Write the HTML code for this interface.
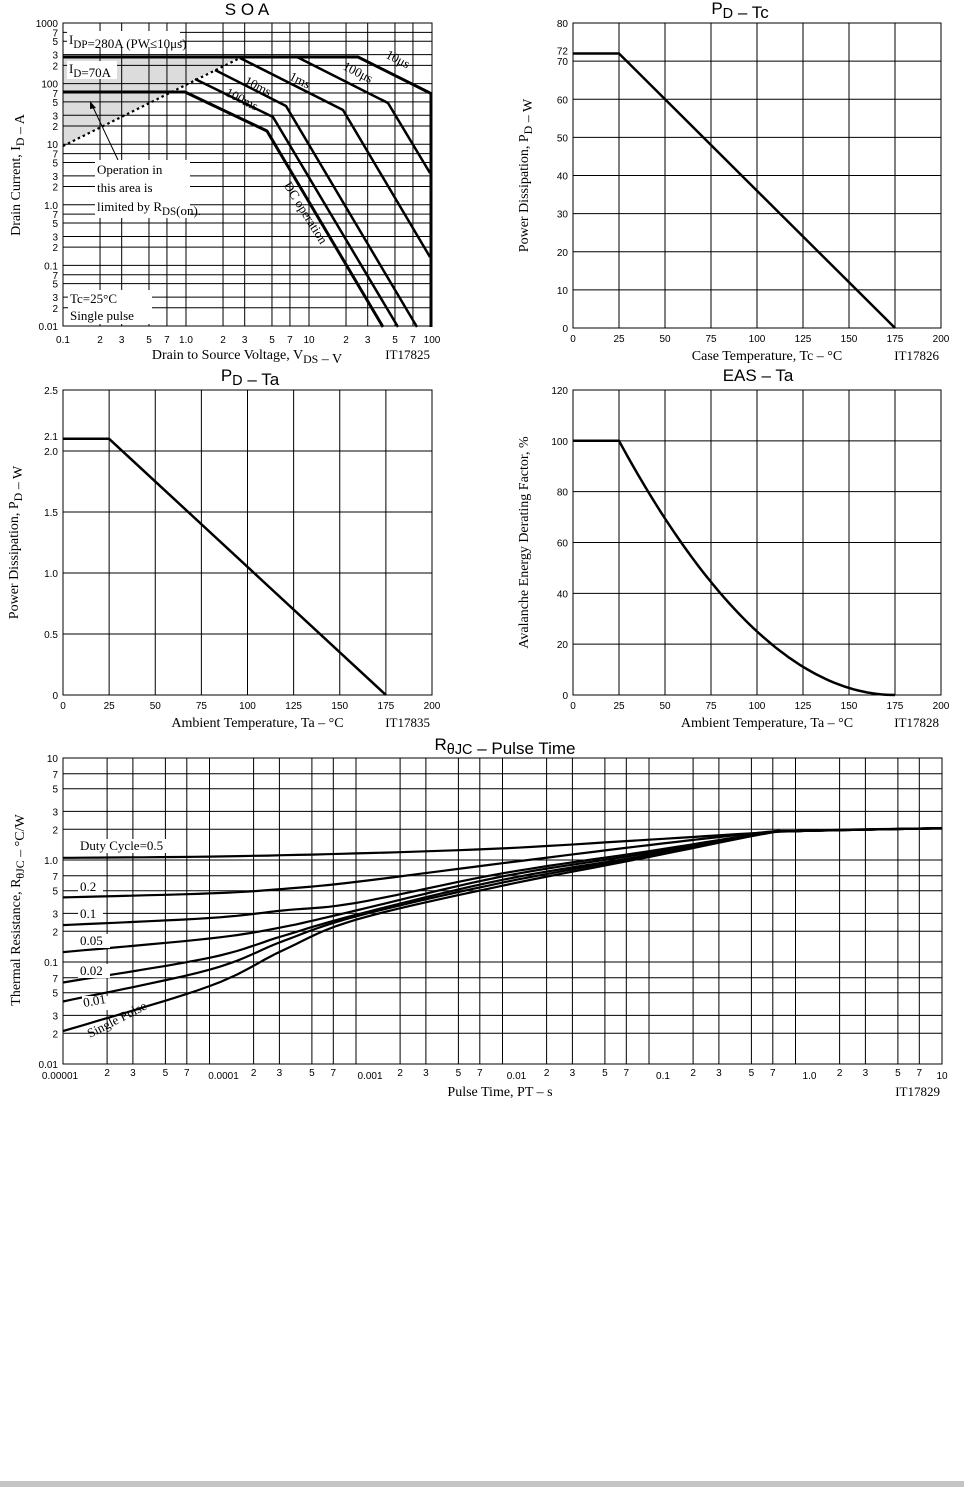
<!DOCTYPE html>
<html><head><meta charset="utf-8"><style>
html,body{margin:0;padding:0;background:#fff;}
svg{display:block;}
.t{font-family:"Liberation Sans",sans-serif;font-size:10px;fill:#000;}
.s{font-family:"Liberation Serif",serif;font-size:13px;fill:#000;}
.a{font-family:"Liberation Serif",serif;font-size:14px;fill:#000;}
.h{font-family:"Liberation Sans",sans-serif;font-size:17px;fill:#000;}
</style></head><body>
<svg id="g" width="964" height="1487" xmlns="http://www.w3.org/2000/svg">
<rect x="0" y="1481" width="964" height="6" fill="#c4c4c4"/>
</svg>
<script>
const NS="http://www.w3.org/2000/svg",G=document.getElementById('g');
function el(n,a,txt){const e=document.createElementNS(NS,n);for(const k in a)e.setAttribute(k,a[k]);if(txt!==undefined)e.textContent=txt;G.appendChild(e);return e;}
function line(x1,y1,x2,y2,w){el('line',{x1,y1,x2,y2,stroke:'#000','stroke-width':w||1});}
function text(x,y,s,cls,anchor,extra){const a={x,y,class:cls||'t','text-anchor':anchor||'middle'};Object.assign(a,extra||{});return el('text',a,s);}
const SUB=s=>s.replace(/_\{([^}]*)\}/g,'<tspan dy="4" font-size="85%">$1</tspan><tspan dy="-4"></tspan>');
function htext(x,y,s,cls,anchor,extra){const e=text(x,y,'',cls,anchor,extra);e.innerHTML=SUB(s);return e;}
function poly(pts,w,extra){const a={points:pts.map(p=>p[0].toFixed(1)+','+p[1].toFixed(1)).join(' '),fill:'none',stroke:'#000','stroke-width':w||2.5,'stroke-linejoin':'round'};Object.assign(a,extra||{});el('polyline',a);}
const L=Math.log10,M=[1,2,3,5,7];

// ===== SOA =====
(function(){
const X=v=>63+123*L(v/0.1),Y=i=>23+60.6*(3-L(i));
el('polygon',{points:`63,57 240,57 63,146`,fill:'#dcdcdc'});
for(let d=-1;d<2;d++)for(const m of M){const v=m*Math.pow(10,d);line(X(v),23,X(v),326);}
for(let d=-2;d<3;d++)for(const m of M){const v=m*Math.pow(10,d);line(63,Y(v),432,Y(v));}
el('rect',{x:63,y:23,width:369,height:303,fill:'none',stroke:'#000','stroke-width':1});
const xl=['0.1','1.0','10'];
for(let d=-1;d<2;d++)for(const m of M){const v=m*Math.pow(10,d);text(X(v),343,m==1?xl[d+1]:m);}
text(X(100),343,'100');
const yl=['0.01','0.1','1.0','10','100'];
for(let d=-2;d<3;d++)for(const m of M){const v=m*Math.pow(10,d);text(58,Y(v)+4,m==1?yl[d+2]:m,'t','end');}
text(58,27,'1000','t','end');
poly([[63,57],[358,57],[430,93]],3);
poly([[297,57],[388,103],[430,173]]);
poly([[240,58],[343,110],[430,257]]);
poly([[215,70],[286,106],[417,327]]);
poly([[195,79],[273,117],[398,327]]);
poly([[63,92],[185,92],[267,131],[383,327]],3);
line(431,92,431,327,3);
poly([[63,146],[240,58]],2.2,{'stroke-dasharray':'2.5,3'});
el('rect',{x:67,y:31,width:113,height:16,fill:'#fff'});
htext(69,44,'I_{DP}=280A (PW≤10μs)','s','start',{'font-size':'12'});
el('rect',{x:67,y:61,width:50,height:18,fill:'#fff'});
htext(69,73,'I_{D}=70A','s','start',{'font-size':'12'});
line(118,160,92,105,1);el('polygon',{points:'90,101 96,108 90,109',fill:'#000'});
el('rect',{x:95,y:160,width:95,height:58,fill:'#fff'});
text(97,174,'Operation in','s','start');text(97,192,'this area is','s','start');htext(97,211,'limited by R_{DS}(on).','s','start');
el('rect',{x:68,y:290,width:84,height:34,fill:'#fff'});
text(70,303,'Tc=25°C','s','start');text(70,320,'Single pulse','s','start');
text(0,0,'10μs','s','middle',{transform:'translate(396,63) rotate(27)'});
text(0,0,'100μs','s','middle',{transform:'translate(356,76) rotate(27)'});
text(0,0,'1ms','s','middle',{transform:'translate(298,84) rotate(27)'});
text(0,0,'10ms','s','middle',{transform:'translate(256,90) rotate(27)'});
text(0,0,'100ms','s','middle',{transform:'translate(240,103) rotate(27)'});
text(0,0,'DC operation','s','middle',{transform:'translate(302,215) rotate(58)'});
htext(0,0,'Drain Current, I_{D}  –  A','a','middle',{transform:'translate(20,175) rotate(-90)'});
htext(247,359,'Drain to Source Voltage, V_{DS}  –  V','a');
text(430,359,'IT17825','s','end',{'font-size':'10'});
text(247,15,'S O A','h');
})();

function lin(x0,x1,y0,y1,ymax,ystep,yextra,title,tx,xt,it,ytitle){
 const X=v=>x0+(x1-x0)*v/200,Y=v=>y1-(y1-y0)*v/ymax;
 for(let v=0;v<=200;v+=25){line(X(v),y0,X(v),y1);text(X(v),y1+14,v);}
 for(let v=0;v<=ymax+1e-9;v+=ystep){line(x0,Y(v),x1,Y(v));text(x0-5,Y(v)+4,ystep<1&&v>0?v.toFixed(1):Math.round(v),'t','end');}
 if(yextra)text(x0-5,Y(yextra[0])+4+yextra[2],yextra[1],'t','end');
 el('rect',{x:x0,y:y0,width:x1-x0,height:y1-y0,fill:'none',stroke:'#000'});
 htext(tx,y0-9,title,'h');
 text((x0+x1)/2+10,y1+32,xt,'a');
 text(x1-2,y1+32,it,'s','end',{'font-size':'10'});
 htext(0,0,ytitle,'a','middle',{transform:`translate(${x0-45},${(y0+y1)/2}) rotate(-90)`});
 return [X,Y];
}
(function(){
let [X,Y]=lin(573,941,23,328,80,10,[72,'72',-3],'P_{D}  –  Tc',740,'Case Temperature, Tc  –  °C','IT17826','Power Dissipation, P_{D}  –  W');
poly([[X(0),Y(72)],[X(25),Y(72)],[X(175),Y(0)]],2.5);
[X,Y]=lin(63,432,390,695,2.5,0.5,[2.1,'2.1',-3],'P_{D}  –  Ta',250,'Ambient Temperature, Ta  –  °C','IT17835','Power Dissipation, P_{D}  –  W');
poly([[X(0),Y(2.1)],[X(25),Y(2.1)],[X(175),Y(0)]],2.5);
[X,Y]=lin(573,941,390,695,120,20,null,'EAS  –  Ta',758,'Ambient Temperature, Ta  –  °C','IT17828','Avalanche Energy Derating Factor, %');
const p=[[X(0),Y(100)],[X(25),Y(100)]];for(let t=25;t<=175;t+=2.5)p.push([X(t),Y(100*Math.pow((175-t)/150,2))]);
poly(p,2.5);
})();

(function(){
const X=t=>63+146.5*(L(t)+5),Y=v=>758+102*(1-L(v));
for(let d=-5;d<1;d++)for(const m of M){const v=m*Math.pow(10,d);line(X(v),758,X(v),1064);}
for(let d=-2;d<1;d++)for(const m of M){const v=m*Math.pow(10,d);line(63,Y(v),942,Y(v));}
el('rect',{x:63,y:758,width:879,height:306,fill:'none',stroke:'#000'});
const dl=['0.00001','0.0001','0.001','0.01','0.1','1.0','10'];
for(let d=-5;d<=1;d++){const x=X(Math.pow(10,d));text(x+(d==-5?-3:d==1?0:14),1079,dl[d+5]);
 if(d<1)for(const m of [2,3,5,7])text(X(m*Math.pow(10,d)),1076,m);}
const yl=['0.01','0.1','1.0','10'];
for(let d=-2;d<=1;d++){text(58,Y(Math.pow(10,d))+4,yl[d+2],'t','end');if(d<1)for(const m of [2,3,5,7])text(58,Y(m*Math.pow(10,d))+4,m,'t','end');}
const C={
 '0.5':[[-5,1.05],[-4,1.08],[-3,1.16],[-2,1.3],[-1,1.58],[0,1.92],[1,2.05]],
 '0.2':[[-5,0.43],[-4,0.47],[-3.5,0.52],[-3,0.61],[-2,0.93],[-1,1.4],[-0.2,1.88],[0,1.92],[1,2.05]],
 '0.1':[[-5,0.23],[-4,0.27],[-3.5,0.32],[-3,0.38],[-2,0.74],[-1,1.22],[-0.2,1.85],[0,1.92],[1,2.05]],
 '0.05':[[-5,0.125],[-4,0.17],[-3.5,0.22],[-3,0.32],[-2,0.69],[-1,1.17],[-0.2,1.84],[0,1.92],[1,2.05]],
 '0.02':[[-5,0.063],[-4,0.11],[-3.5,0.18],[-3,0.29],[-2,0.64],[-1,1.12],[-0.2,1.83],[0,1.92],[1,2.05]],
 '0.01':[[-5,0.041],[-4,0.084],[-3.5,0.16],[-3,0.28],[-2,0.6],[-1,1.1],[-0.2,1.83],[0,1.92],[1,2.05]],
 'sp':[[-5,0.021],[-4,0.058],[-3.5,0.13],[-3,0.26],[-2,0.56],[-1,1.07],[-0.2,1.82],[0,1.92],[1,2.05]]};
for(const k in C){const d=C[k].map(p=>[p[0],L(p[1])]);const pts=[];
 for(let i=0;i<d.length-1;i++){const p0=d[Math.max(i-1,0)],p1=d[i],p2=d[i+1],p3=d[Math.min(i+2,d.length-1)];
  for(let s=0;s<10;s++){const t=s/10,t2=t*t,t3=t2*t;
   const f=(a,b,c,e)=>0.5*(2*b+(-a+c)*t+(2*a-5*b+4*c-e)*t2+(-a+3*b-3*c+e)*t3);
   pts.push([63+146.5*(f(p0[0],p1[0],p2[0],p3[0])+5),758+102*(1-f(p0[1],p1[1],p2[1],p3[1]))]);}}
 const e=d[d.length-1];pts.push([63+146.5*(e[0]+5),758+102*(1-e[1])]);
 poly(pts,2.2);}
const lb=(x,y,s,r)=>{const w=s.length*7+4;el('rect',{x:x-2,y:y-11,width:w,height:14,fill:'#fff'});text(x,y,s,'s','start',r?{transform:`rotate(${r} ${x} ${y})`}:{});};
lb(80,850,'Duty Cycle=0.5');
lb(80,891,'0.2');lb(80,918,'0.1');lb(80,945,'0.05');lb(80,975,'0.02');lb(84,1007,'0.01',-10);
text(90,1038,'Single Pulse','s','start',{transform:'rotate(-27 90 1038)'});
htext(505,750,'R_{θJC}  –  Pulse Time','h');
text(500,1096,'Pulse Time, PT  –  s','a');
text(940,1096,'IT17829','s','end',{'font-size':'10'});
htext(0,0,'Thermal Resistance, R_{θJC}  –  °C/W','a','middle',{transform:'translate(20,910) rotate(-90)'});
})();
</script>
</body></html>
